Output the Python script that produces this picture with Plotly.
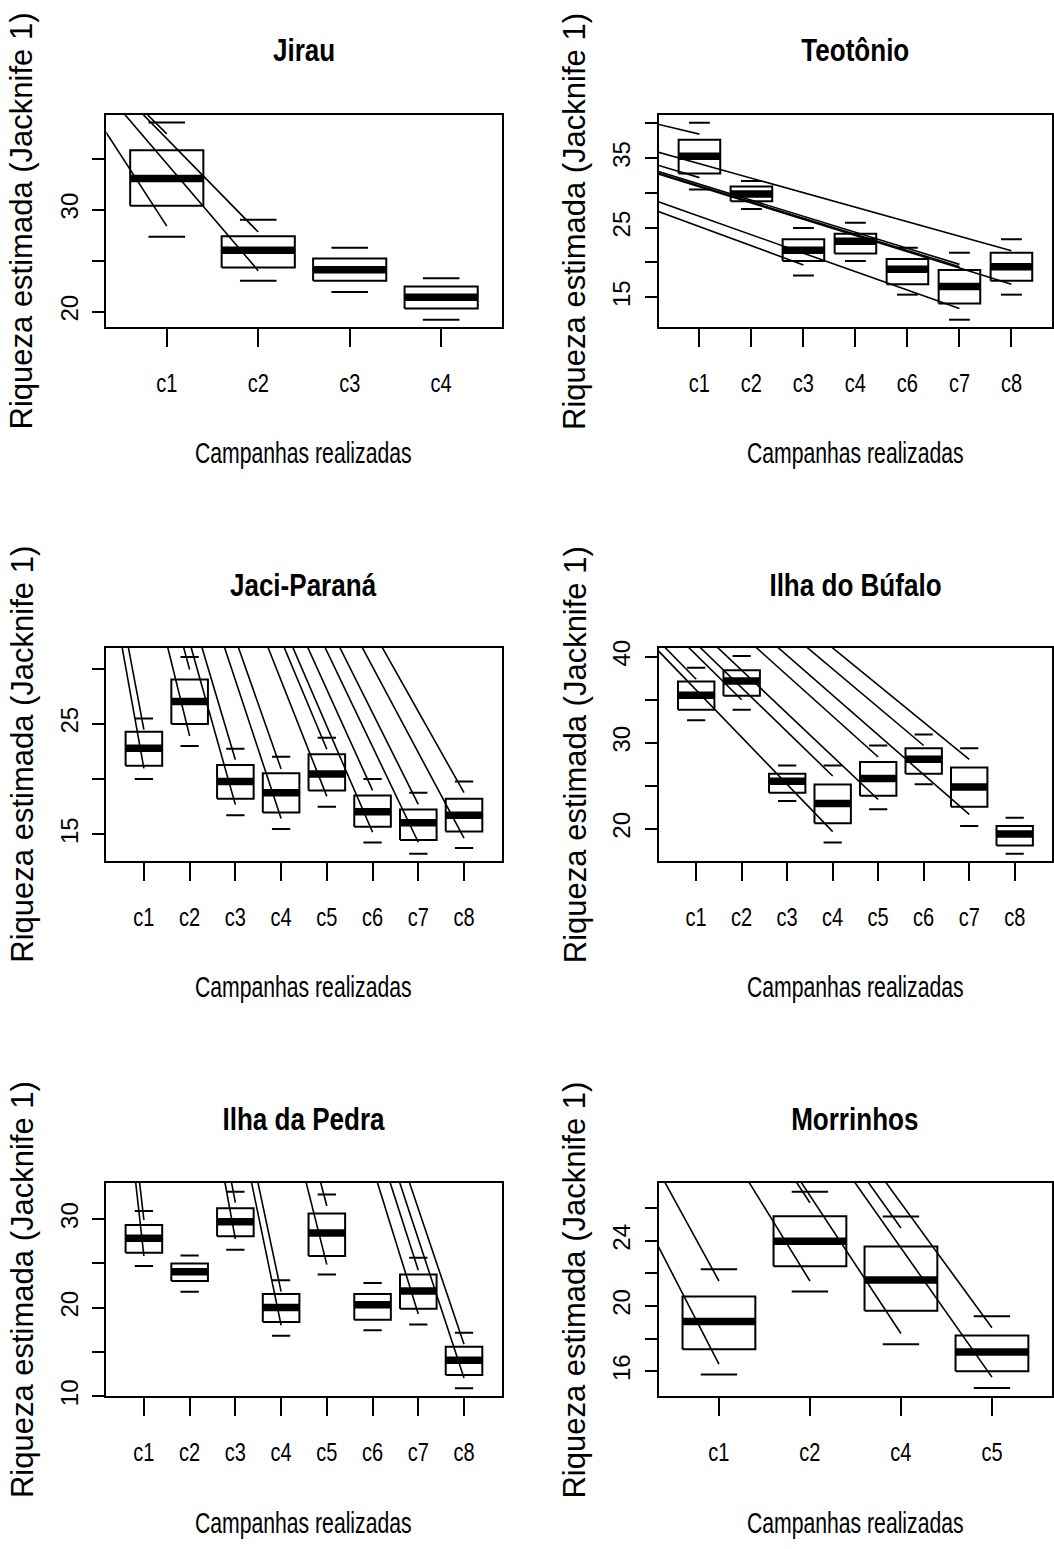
import plotly.graph_objects as go

# ---------------- data ----------------
# Five-number summaries per campaign (whisker low, Q1, median, Q3, whisker high)
# plus the values where each dashed whisker stroke terminates.

jirau_cats = ["c1", "c2", "c3", "c4"]
jirau_low = [27.35, 23.03, 21.94, 19.23]
jirau_q1 = [30.39, 24.35, 23.03, 20.32]
jirau_med = [33.06, 26.03, 24.13, 21.42]
jirau_q3 = [35.81, 27.39, 25.23, 22.48]
jirau_high = [38.52, 29.00, 26.26, 23.29]
jirau_stroke_cat = [1, 1, 2, 2]
jirau_stroke_val = [37.42, 28.39, 27.81, 24.03]
jirau_ticks = [20, 25, 30, 35]
jirau_ticklabels = ["20", "", "30", ""]
jirau_yrange = [18.52, 39.26]

teot_cats = ["c1", "c2", "c3", "c4", "c6", "c7", "c8"]
teot_low = [30.48, 27.69, 18.13, 20.21, 15.38, 11.78, 15.38]
teot_q1 = [32.80, 28.78, 20.21, 21.30, 16.89, 14.10, 17.37]
teot_med = [35.27, 29.82, 21.77, 23.05, 19.02, 16.56, 19.40]
teot_q3 = [37.63, 30.91, 23.33, 24.14, 20.49, 18.93, 21.39]
teot_high = [40.09, 31.71, 24.94, 25.70, 22.10, 21.39, 23.33]
teot_stroke_cat = [1, 1, 3, 6, 6, 6, 7, 7]
teot_stroke_val = [38.44, 32.19, 19.64, 19.73, 19.40, 13.39, 21.68, 16.89]
teot_ticks = [15, 20, 25, 30, 35, 40]
teot_ticklabels = ["15", "", "25", "", "35", ""]
teot_yrange = [10.74, 41.18]

jaci_cats = ["c1", "c2", "c3", "c4", "c5", "c6", "c7", "c8"]
jaci_low = [20.01, 22.99, 16.73, 15.48, 17.48, 14.25, 13.24, 13.75]
jaci_q1 = [21.20, 24.99, 18.22, 16.97, 18.97, 15.69, 14.49, 15.24]
jaci_med = [22.78, 27.02, 19.77, 18.76, 20.46, 17.03, 16.04, 16.73]
jaci_q3 = [24.28, 29.02, 21.26, 20.52, 22.25, 18.52, 17.24, 18.22]
jaci_high = [25.47, 31.05, 22.75, 22.01, 23.74, 20.01, 18.76, 19.77]
jaci_stroke_cat = [1, 1, 2, 2, 3, 3, 4, 4, 5, 5, 6, 6, 7, 7, 8, 8]
jaci_stroke_val = [24.48, 20.96, 29.91, 23.89, 21.74, 17.68, 20.91, 16.43,
                   22.69, 18.43, 18.97, 15.18, 17.71, 14.28, 18.76, 14.64]
jaci_ticks = [15, 20, 25, 30]
jaci_ticklabels = ["15", "", "25", ""]
jaci_yrange = [12.61, 31.88]

bufalo_cats = ["c1", "c2", "c3", "c4", "c5", "c6", "c7", "c8"]
bufalo_low = [32.62, 33.85, 23.23, 18.42, 22.27, 25.19, 20.35, 17.12]
bufalo_q1 = [33.85, 35.46, 24.19, 20.65, 23.85, 26.42, 22.58, 18.08]
bufalo_med = [35.54, 37.19, 25.54, 22.96, 25.85, 28.08, 24.88, 19.42]
bufalo_q3 = [37.12, 38.42, 26.42, 25.15, 27.77, 29.38, 27.12, 20.35]
bufalo_high = [38.73, 40.08, 27.38, 27.38, 29.69, 30.96, 29.38, 21.31]
bufalo_stroke_cat = [1, 2, 4, 4, 5, 5, 6, 7, 7]
bufalo_stroke_val = [37.38, 35.00, 19.69, 26.15, 23.42, 28.35, 29.69, 21.69, 28.08]
bufalo_ticks = [20, 25, 30, 35, 40]
bufalo_ticklabels = ["20", "", "30", "", "40"]
bufalo_yrange = [16.31, 41.04]

pedra_cats = ["c1", "c2", "c3", "c4", "c5", "c6", "c7", "c8"]
pedra_low = [24.72, 21.82, 26.54, 16.84, 23.75, 17.47, 18.10, 10.93]
pedra_q1 = [26.21, 23.01, 28.07, 18.40, 25.84, 18.66, 19.89, 12.42]
pedra_med = [27.84, 24.05, 29.70, 20.04, 28.44, 20.33, 21.90, 14.09]
pedra_q3 = [29.33, 24.98, 31.23, 21.56, 30.63, 21.56, 23.75, 15.61]
pedra_high = [30.93, 25.91, 33.09, 23.09, 32.79, 22.79, 25.65, 17.17]
pedra_stroke_cat = [1, 1, 3, 3, 4, 4, 5, 5, 7, 7, 8, 8]
pedra_stroke_val = [29.90, 25.84, 31.86, 27.77, 21.82, 18.03, 31.49, 24.87,
                    24.24, 19.29, 15.87, 12.08]
pedra_ticks = [10, 15, 20, 25, 30]
pedra_ticklabels = ["10", "", "20", "", "30"]
pedra_yrange = [10.0, 34.09]

morr_cats = ["c1", "c2", "c4", "c5"]
morr_low = [15.80, 20.89, 17.66, 14.97]
morr_q1 = [17.35, 22.44, 19.72, 16.00]
morr_med = [19.05, 23.98, 21.60, 17.19]
morr_q3 = [20.59, 25.52, 23.66, 18.20]
morr_high = [22.26, 27.01, 25.49, 19.37]
morr_stroke_cat = [1, 1, 2, 2, 3, 3, 4, 4]
morr_stroke_val = [21.54, 16.44, 26.34, 21.54, 24.79, 18.32, 18.67, 15.64]
morr_ticks = [16, 18, 20, 22, 24, 26]
morr_ticklabels = ["16", "", "20", "", "24", ""]
morr_yrange = [14.46, 27.56]

panel_titles = ["Jirau", "Teotônio", "Jaci-Paraná", "Ilha do Búfalo",
                "Ilha da Pedra", "Morrinhos"]
x_title = "Campanhas realizadas"
y_title = "Riqueza estimada (Jacknife 1)"

# ---------------- layout geometry (pixels) ----------------
W, H = 1054, 1549
COLS = [(106.5, 502.0), (659.5, 1053.0)]
ROWS = [(108.3, 322.7), (647.3, 862.7), (1188.7, 1404.7)]
TITLE_Y = [43, 584, 1125]
STROKE_ORIGIN = (0.0, -40.0)   # page point the whisker strokes radiate from

# Condensed labels use Liberation Sans tagged with "Arimo" in the family list;
# the post-render script squeezes those horizontally.
NARROW = "Liberation Sans, Arimo, Arial, sans-serif"
REGULAR = "Liberation Sans, Arial, Helvetica, sans-serif"
BLACK = "#000000"

TITLE_SIZE = 31
XTITLE_SIZE = 29
XTICK_SIZE = 25

panels = [
    (jirau_cats, jirau_low, jirau_q1, jirau_med, jirau_q3, jirau_high,
     jirau_stroke_cat, jirau_stroke_val, jirau_ticks, jirau_ticklabels, jirau_yrange),
    (teot_cats, teot_low, teot_q1, teot_med, teot_q3, teot_high,
     teot_stroke_cat, teot_stroke_val, teot_ticks, teot_ticklabels, teot_yrange),
    (jaci_cats, jaci_low, jaci_q1, jaci_med, jaci_q3, jaci_high,
     jaci_stroke_cat, jaci_stroke_val, jaci_ticks, jaci_ticklabels, jaci_yrange),
    (bufalo_cats, bufalo_low, bufalo_q1, bufalo_med, bufalo_q3, bufalo_high,
     bufalo_stroke_cat, bufalo_stroke_val, bufalo_ticks, bufalo_ticklabels, bufalo_yrange),
    (pedra_cats, pedra_low, pedra_q1, pedra_med, pedra_q3, pedra_high,
     pedra_stroke_cat, pedra_stroke_val, pedra_ticks, pedra_ticklabels, pedra_yrange),
    (morr_cats, morr_low, morr_q1, morr_med, morr_q3, morr_high,
     morr_stroke_cat, morr_stroke_val, morr_ticks, morr_ticklabels, morr_yrange),
]

fig = go.Figure()
annotations = []
layout_axes = {}

HALF_BOX = 0.4     # boxwex 0.8
HALF_CAP = 0.2     # staple half width


def seg_line(xs, ys, xa, ya, width):
    return go.Scatter(x=xs, y=ys, xaxis=xa, yaxis=ya, mode="lines",
                      line=dict(color=BLACK, width=width),
                      hoverinfo="skip", showlegend=False)


for k, (cats, low, q1, med, q3, high, s_cat, s_val, ticks, tlabels, yr) in enumerate(panels):
    row, col = divmod(k, 2)
    x0p, x1p = COLS[col]
    y0p, y1p = ROWS[row]
    n = len(cats)
    pad = 0.04 * n
    xr = [0.5 - pad, n + 0.5 + pad]

    suffix = "" if k == 0 else str(k + 1)
    xa, ya = "x" + suffix, "y" + suffix

    pos = list(range(1, n + 1))

    # box outlines
    bx, by = [], []
    for p, a, b in zip(pos, q1, q3):
        bx += [p - HALF_BOX, p + HALF_BOX, p + HALF_BOX, p - HALF_BOX, p - HALF_BOX, None]
        by += [a, a, b, b, a, None]
    fig.add_trace(seg_line(bx, by, xa, ya, 2))

    # whisker staples
    cx, cy = [], []
    for p, lo, hi in zip(pos, low, high):
        cx += [p - HALF_CAP, p + HALF_CAP, None, p - HALF_CAP, p + HALF_CAP, None]
        cy += [lo, lo, None, hi, hi, None]
    fig.add_trace(seg_line(cx, cy, xa, ya, 2))

    # medians
    mx, my = [], []
    for p, m in zip(pos, med):
        mx += [p - HALF_BOX, p + HALF_BOX, None]
        my += [m, m, None]
    fig.add_trace(seg_line(mx, my, xa, ya, 7.5))

    # whisker strokes, converging on a common page anchor
    ox = xr[0] + (STROKE_ORIGIN[0] - x0p) / (x1p - x0p) * (xr[1] - xr[0])
    oy = yr[1] - (STROKE_ORIGIN[1] - y0p) / (y1p - y0p) * (yr[1] - yr[0])
    sx, sy = [], []
    for c, v in zip(s_cat, s_val):
        sx += [ox, c, None]
        sy += [oy, v, None]
    fig.add_trace(seg_line(sx, sy, xa, ya, 1.6))

    layout_axes["xaxis" + suffix] = dict(
        domain=[x0p / W, x1p / W], range=xr, anchor=ya,
        tickmode="array", tickvals=pos, ticktext=cats,
        ticks="outside", ticklen=18, tickwidth=2, tickcolor=BLACK,
        ticklabelstandoff=15,
        tickfont=dict(family=NARROW, size=XTICK_SIZE, color=BLACK),
        showline=True, linewidth=2, linecolor=BLACK, mirror=True,
        showgrid=False, zeroline=False, fixedrange=True,
    )
    layout_axes["yaxis" + suffix] = dict(
        domain=[1 - y1p / H, 1 - y0p / H], range=yr, anchor=xa,
        tickmode="array", tickvals=ticks, ticktext=tlabels,
        ticks="outside", ticklen=12, tickwidth=2, tickcolor=BLACK,
        tickangle=-90, ticklabelstandoff=5,
        tickfont=dict(family=REGULAR, size=24, color=BLACK),
        showline=True, linewidth=2, linecolor=BLACK, mirror=True,
        showgrid=False, zeroline=False, fixedrange=True,
    )

    cxp = (x0p + x1p) / 2
    cyp = (y0p + y1p) / 2
    annotations.append(dict(
        text="<b>" + panel_titles[k] + "</b>", xref="paper", yref="paper",
        x=cxp / W, y=1 - TITLE_Y[row] / H, xanchor="center", yanchor="middle",
        showarrow=False, font=dict(family=NARROW, size=TITLE_SIZE, color=BLACK)))
    annotations.append(dict(
        text=x_title, xref="paper", yref="paper",
        x=cxp / W, y=1 - (y1p + 128) / H, xanchor="center", yanchor="middle",
        showarrow=False, font=dict(family=NARROW, size=XTITLE_SIZE, color=BLACK)))
    annotations.append(dict(
        text=y_title, xref="paper", yref="paper", textangle=-90,
        x=(x0p - 84) / W, y=1 - cyp / H, xanchor="center", yanchor="middle",
        showarrow=False, font=dict(family=REGULAR, size=31, color=BLACK)))

fig.update_layout(
    width=W, height=H,
    margin=dict(l=0, r=0, t=0, b=0),
    paper_bgcolor="white", plot_bgcolor="white",
    showlegend=False,
    annotations=annotations,
    **layout_axes,
)

# Condense the labels tagged with the narrow family (they stay live SVG text).
squeeze_js = """
var gd = document.getElementById('{plot_id}');
var factors = {%d: 0.84, %d: 0.73, %d: 0.80};
function squeezeNarrow() {
  gd.querySelectorAll('text').forEach(function (t) {
    var fam = (t.style.fontFamily || '') + (t.getAttribute('font-family') || '');
    if (fam.indexOf('Arimo') < 0 || t.getAttribute('data-squeezed')) return;
    var w = t.getComputedTextLength();
    if (!w) return;
    var size = Math.round(parseFloat(t.style.fontSize || '0'));
    var f = factors[size] || 0.8;
    t.setAttribute('textLength', (w * f).toFixed(2));
    t.setAttribute('lengthAdjust', 'spacingAndGlyphs');
    t.setAttribute('data-squeezed', '1');
  });
}
squeezeNarrow();
gd.on('plotly_afterplot', squeezeNarrow);
""" % (TITLE_SIZE, XTITLE_SIZE, XTICK_SIZE)

fig.write_html("out.html", config={"displayModeBar": False}, post_script=squeeze_js)
